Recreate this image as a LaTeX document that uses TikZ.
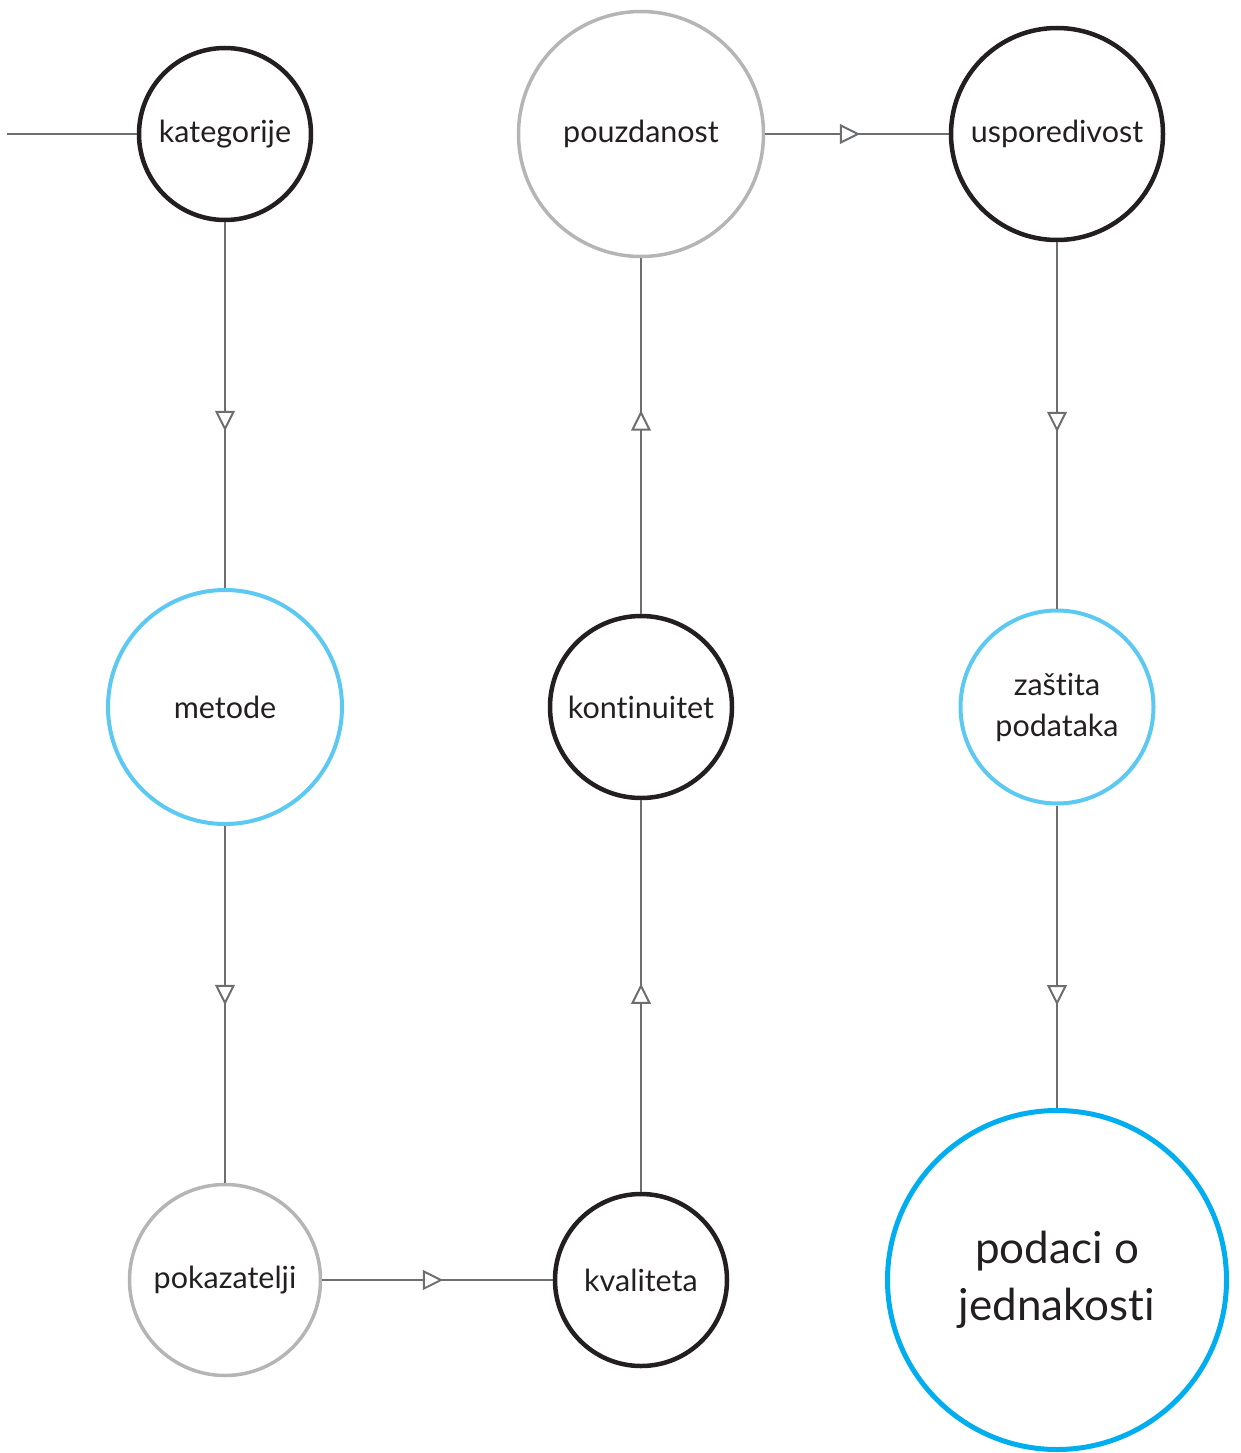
\documentclass[tikz,border=0pt]{standalone}
\usepackage{fontspec}
\setmainfont{Lato}[Ligatures={NoCommon}]
\usetikzlibrary{decorations.markings}
\definecolor{ink}{HTML}{231F20}
\definecolor{ringgray}{HTML}{B5B5B7}
\definecolor{lightblue}{HTML}{5BC9F2}
\definecolor{deepblue}{HTML}{00AEEF}
\definecolor{wire}{HTML}{6D6E71}
\tikzset{
  x=1pt,y=-1pt,
  ring/.style={circle,inner sep=0pt,align=center,text=ink,font=\fontsize{30.5}{41}\selectfont},
  blackring/.style={ring,draw=ink,line width=4.5pt},
  grayring/.style={ring,draw=ringgray,line width=3.5pt},
  blueRing/.style={ring,draw=lightblue,line width=4pt},
  conn/.style={draw=wire,line width=2pt},
  arr/.style={conn,postaction={decorate},decoration={markings,
     mark=at position #1 with {\draw[draw=wire,fill=white,line width=2pt,line join=miter]
        (0,0) -- (-17,8.5) -- (-17,-8.5) -- cycle;}}}
}
\begin{document}
\begin{tikzpicture}
\useasboundingbox (0,0) rectangle (1240,1453);
\node[blackring,minimum size=172pt] (kat) at (225,134) {kategorije};
\node[grayring,minimum size=245pt] (pou) at (641,134) {pouzdanost};
\node[blackring,minimum size=212pt] (usp) at (1057,134) {usporedivost};
\node[blueRing,minimum size=234pt] (met) at (225,707) {metode};
\node[blackring,minimum size=182pt] (kon) at (641,707) {kontinuitet};
\node[blueRing,minimum size=193pt] (zas) at (1057,707) {zaštita\\podataka};
\node[grayring,minimum size=191pt] (pok) at (225,1280) {pokazatelji};
\node[blackring,minimum size=172pt] (kva) at (641,1280) {kvaliteta};
\node[ring,draw=deepblue,line width=5pt,minimum size=339pt,font=\fontsize{44}{57}\selectfont] (pod) at (1057,1280) {podaci o\\jednakosti};
\coordinate (lstart) at (7,134);
\draw[conn] (lstart) -- (kat);
\draw[arr=0.565] (kat) -- (met);
\draw[arr=0.496] (met) -- (pok);
\draw[arr=0.515] (pok) -- (kva);
\draw[arr=0.526] (kva) -- (kon);
\draw[arr=0.566] (kon) -- (pou);
\draw[arr=0.505] (pou) -- (usp);
\draw[arr=0.512] (usp) -- (zas);
\draw[arr=0.653] (zas) -- (pod);
\end{tikzpicture}
\end{document}
